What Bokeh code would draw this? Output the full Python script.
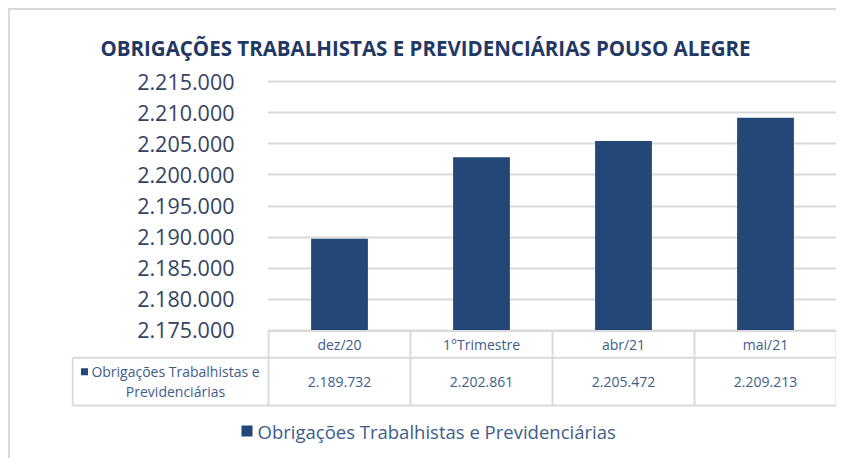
from bokeh.plotting import figure
from bokeh.models import Range1d, ColumnDataSource, FixedTicker
from bokeh.embed import file_html
from bokeh.resources import INLINE
from bokeh.core.properties import value

# ---------------- data ----------------
title_text = "OBRIGAÇÕES TRABALHISTAS E PREVIDENCIÁRIAS POUSO ALEGRE"
categories = ["dez/20", "1°Trimestre", "abr/21", "mai/21"]
values = [2189732, 2202861, 2205472, 2209213]
series_name = "Obrigações Trabalhistas e Previdenciárias"
series_label_lines = ["Obrigações Trabalhistas e", "Previdenciárias"]
y_ticks = [2175000, 2180000, 2185000, 2190000, 2195000, 2200000, 2205000, 2210000, 2215000]


def fmt(v):
    return f"{v:,}".replace(",", ".")


# ---------------- styles / layout (page pixels) ----------------
FONT = "Open Sans"
BAR = "#234776"
TITLE_C = "#1F3864"
TICK_C = "#34435F"
TXT_C = "#3E5C8A"
GRID_C = "#D9D9D9"

PAGE_L = 10          # content left (after 8px margin + 2px border line)
PAGE_R = 838
CW = PAGE_R - PAGE_L
n = len(categories)
COL0 = 268           # left edge of first category column
CAT_W = 142          # width of one category column
TITLE_B = 63         # bottom of title strip
CHART_B = 357        # bottom of chart strip
TABLE_B = 460        # bottom of table strip
Y_TOP_PX, Y_BOT_PX = 83.3, 331.7   # pixel rows of the top and bottom y ticks

BORDER = "2px solid #D9D9D9"


def cx(page_x):
    """page pixel -> column units (one category = 1)."""
    return (page_x - COL0) / CAT_W


def bare(fig):
    fig.outline_line_color = None
    fig.grid.visible = False
    return fig


common = dict(output_backend="svg", toolbar_location=None, tools="")

# ---------------- title strip ----------------
tt = bare(figure(width=CW, height=TITLE_B - 10, x_range=Range1d(PAGE_L, PAGE_R),
                 y_range=Range1d(TITLE_B, 10), x_axis_location=None, y_axis_location=None,
                 min_border_left=0, min_border_right=0, min_border_top=0, min_border_bottom=0,
                 styles={"margin-left": "8px", "margin-top": "8px",
                         "border-left": BORDER, "border-top": BORDER}, **common))
tt.text(x=[425], y=[47], text=[title_text], text_align="center", text_baseline="middle",
        text_font=value(FONT), text_font_style="bold", text_font_size="20.5px",
        text_color=TITLE_C)

# ---------------- chart strip ----------------
px_per_val = (Y_BOT_PX - Y_TOP_PX) / (y_ticks[-1] - y_ticks[0])
y_start = y_ticks[0] - (CHART_B - Y_BOT_PX) / px_per_val
y_end = y_ticks[-1] + (Y_TOP_PX - TITLE_B) / px_per_val
FL = COL0 - 1
src = ColumnDataSource(dict(x=[i + 0.5 for i in range(n)], val=values))

p = figure(width=CW, height=CHART_B - TITLE_B,
           x_range=Range1d(cx(FL), cx(PAGE_R)), y_range=Range1d(y_start, y_end),
           x_axis_location=None,
           min_border_left=FL - PAGE_L, min_border_right=0, min_border_top=0, min_border_bottom=0,
           styles={"margin-left": "8px", "border-left": BORDER}, **common)
p.outline_line_color = None
p.xgrid.visible = False
p.ygrid.grid_line_color = GRID_C
p.ygrid.grid_line_width = 2
p.yaxis.ticker = FixedTicker(ticks=y_ticks)
p.yaxis.major_label_overrides = {t: fmt(t) for t in y_ticks}
p.yaxis.axis_line_color = None
p.yaxis.major_tick_line_color = None
p.yaxis.minor_tick_line_color = None
p.yaxis.major_label_standoff = 27
p.yaxis.major_label_text_font = FONT
p.yaxis.major_label_text_font_size = "21.5px"
p.yaxis.major_label_text_color = TICK_C

p.vbar(x="x", top="val", bottom=y_ticks[0], width=0.4, source=src,
       fill_color=BAR, line_color=None)

# header row of the data table (page-pixel y range)
p.extra_y_ranges = {"tbl": Range1d(CHART_B, TITLE_B)}
HDR_TOP = 332.5
hx0 = [0] + list(range(n + 1))
hx1 = [n] + list(range(n + 1))
hy0 = [HDR_TOP] + [HDR_TOP] * (n + 1)
hy1 = [HDR_TOP] + [CHART_B + 2] * (n + 1)
p.segment(x0=hx0, y0=hy0, x1=hx1, y1=hy1, y_range_name="tbl",
          line_color=GRID_C, line_width=2)
hsrc = ColumnDataSource(dict(x=[i + 0.5 for i in range(n)], cat=categories))
p.text(x="x", y=345.7, text="cat", source=hsrc, y_range_name="tbl",
       text_align="center", text_baseline="middle",
       text_font=value(FONT), text_font_size="14px", text_color=TXT_C)

# ---------------- table body + legend ----------------
ROW_MID, ROW_BOT = 359.3, 407
LAB_L = 72
t = bare(figure(width=CW, height=TABLE_B - CHART_B,
                x_range=Range1d(cx(LAB_L - 1), cx(PAGE_R)), y_range=Range1d(TABLE_B, CHART_B),
                x_axis_location=None, y_axis_location=None,
                min_border_left=LAB_L - 1 - PAGE_L, min_border_right=0,
                min_border_top=0, min_border_bottom=0,
                styles={"margin-left": "8px", "border-left": BORDER}, **common))

lx = cx(LAB_L)
x0s = [lx, lx] + list(range(n + 1)) + [lx]
x1s = [n, n] + list(range(n + 1)) + [lx]
y0s = [ROW_MID, ROW_BOT] + [CHART_B - 2] * (n + 1) + [ROW_MID]
y1s = [ROW_MID, ROW_BOT] + [ROW_BOT] * (n + 1) + [ROW_BOT]
t.segment(x0=x0s, y0=y0s, x1=x1s, y1=y1s, line_color=GRID_C, line_width=2)

vsrc = ColumnDataSource(dict(x=[i + 0.5 for i in range(n)], txt=[fmt(v) for v in values]))
t.text(x="x", y=383, text="txt", source=vsrc, text_align="center", text_baseline="middle",
       text_font=value(FONT), text_font_size="14px", text_color=TXT_C)

t.text(x=[cx(175), cx(175)], y=[373.3, 392.7], text=series_label_lines, text_align="center",
       text_baseline="middle", text_font=value(FONT), text_font_size="14px", text_color=TXT_C)
t.scatter(x=[cx(84)], y=[373.3], marker="square", size=7, fill_color=BAR, line_color=None)

t.scatter(x=[cx(246.5)], y=[432.5], marker="square", size=11, fill_color=BAR, line_color=None)
t.text(x=[cx(257)], y=[432.5], text=[series_name], text_align="left",
       text_baseline="middle", text_font=value(FONT), text_font_size="18.5px", text_color=TXT_C)

open("out.html", "w").write(file_html([tt, p, t], INLINE))
